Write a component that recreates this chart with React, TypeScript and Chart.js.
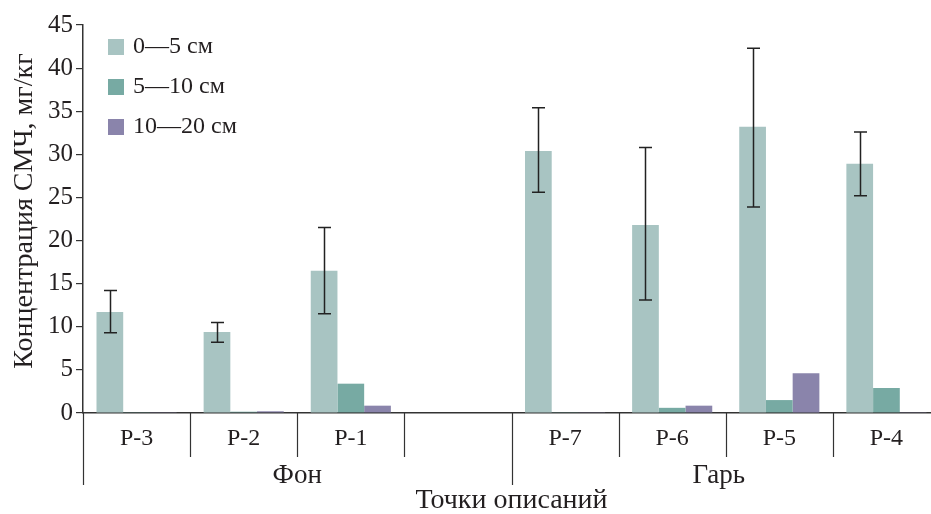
import React, { useEffect, useRef } from "react";
import { Chart, registerables } from "chart.js";

Chart.register(...registerables);

const categories = ["P-3", "P-2", "P-1", "", "P-7", "P-6", "P-5", "P-4"];
const groups = ["Фон", "Гарь"];
const seriesNames = ["0—5 см", "5—10 см", "10—20 см"];
const s0to5 = [11.7, 9.4, 16.5, null, 30.4, 21.8, 33.2, 28.9];
const s5to10 = [0.1, 0.15, 3.4, null, 0.1, 0.6, 1.5, 2.9];
const s10to20 = [0.1, 0.2, 0.85, null, 0.1, 0.85, 4.6, 0.1];
const errHigh = [14.2, 10.5, 21.5, null, 35.4, 30.8, 42.3, 32.6];
const errLow = [9.3, 8.2, 11.5, null, 25.6, 13.1, 23.9, 25.2];
const yTicks = [0, 5, 10, 15, 20, 25, 30, 35, 40, 45];
const colors = ["#a8c4c2", "#77aaa3", "#8a84ab"];
const FONT = "'Liberation Serif', 'DejaVu Serif', serif";
const TEXT = "#231f20";

const decorPlugin = {
  id: "decor",
  afterDatasetsDraw(chart: any) {
    const ctx = chart.ctx;
    const y = chart.scales.y;
    const meta = chart.getDatasetMeta(0);
    ctx.save();
    ctx.strokeStyle = "#222";
    ctx.lineWidth = 1.5;
    meta.data.forEach((bar: any, i: number) => {
      if (errHigh[i] == null || errLow[i] == null) return;
      const bx = Math.round(bar.x) + 0.5;
      const yh = y.getPixelForValue(errHigh[i]);
      const yl = y.getPixelForValue(errLow[i]);
      ctx.beginPath();
      ctx.moveTo(bx, yh);
      ctx.lineTo(bx, yl);
      ctx.moveTo(bx - 6.5, yh);
      ctx.lineTo(bx + 6.5, yh);
      ctx.moveTo(bx - 6.5, yl);
      ctx.lineTo(bx + 6.5, yl);
      ctx.stroke();
    });
    ctx.restore();
  },
  afterDraw(chart: any) {
    const ctx = chart.ctx;
    const x = chart.scales.x;
    const area = chart.chartArea;
    const half = (x.getPixelForValue(1) - x.getPixelForValue(0)) / 2;
    ctx.save();
    ctx.strokeStyle = "#333";
    ctx.lineWidth = 1.2;
    for (let i = 0; i <= categories.length; i++) {
      const px = Math.round(x.getPixelForValue(i) - half) + 0.5;
      const long = i === 0 || i === 4 || i === categories.length;
      ctx.beginPath();
      ctx.moveTo(px, area.bottom);
      ctx.lineTo(px, area.bottom + (long ? 72 : 44));
      ctx.stroke();
    }
    ctx.fillStyle = TEXT;
    ctx.textAlign = "center";
    ctx.textBaseline = "middle";
    ctx.font = `27px ${FONT}`;
    const g0 = (x.getPixelForValue(0) + x.getPixelForValue(3)) / 2;
    const g1 = (x.getPixelForValue(4) + x.getPixelForValue(7)) / 2 - 7;
    ctx.fillText(groups[0], g0, area.bottom + 63);
    ctx.fillText(groups[1], g1, area.bottom + 63);
    ctx.font = `28px ${FONT}`;
    ctx.fillText("Точки описаний", (area.left + area.right) / 2, area.bottom + 88);
    // y title
    ctx.save();
    ctx.translate(25, 211);
    ctx.rotate(-Math.PI / 2);
    ctx.fillText("Концентрация СМЧ, мг/кг", 0, 0);
    ctx.restore();
    // legend
    ctx.font = `24px ${FONT}`;
    ctx.textAlign = "left";
    seriesNames.forEach((name, i) => {
      const ly = area.top + 22 + i * 40;
      ctx.fillStyle = colors[i];
      ctx.fillRect(area.left + 25, ly - 8, 16, 16);
      ctx.fillStyle = TEXT;
      ctx.fillText(name, area.left + 50, ly);
    });
    ctx.restore();
  },
};

export default function App() {
  const ref = useRef<HTMLCanvasElement>(null);
  useEffect(() => {
    if (!ref.current) return;
    const chart = new Chart(ref.current, {
      type: "bar",
      data: {
        labels: categories,
        datasets: [
          { label: seriesNames[0], data: s0to5, backgroundColor: colors[0] },
          { label: seriesNames[1], data: s5to10, backgroundColor: colors[1] },
          { label: seriesNames[2], data: s10to20, backgroundColor: colors[2] },
        ],
      },
      options: {
        responsive: false,
        animation: false,
        layout: { padding: { top: 25, right: 20, left: 0, bottom: 0 } },
        datasets: { bar: { categoryPercentage: 0.748, barPercentage: 1 } },
        plugins: { legend: { display: false }, tooltip: { enabled: false } },
        scales: {
          x: {
            grid: { display: false, drawTicks: false },
            border: { display: true, color: "#333", width: 1.5 },
            ticks: { color: TEXT, font: { family: FONT, size: 24 }, padding: 11, maxRotation: 0, autoSkip: false },
            afterFit: (s: any) => { s.height = 101; },
          },
          y: {
            min: 0,
            max: 45,
            afterBuildTicks: (s: any) => { s.ticks = yTicks.map((v) => ({ value: v })); },
            grid: { drawOnChartArea: false, tickLength: 7, color: "#333", lineWidth: 1.2 },
            border: { display: true, color: "#333", width: 1.5 },
            ticks: { color: TEXT, font: { family: FONT, size: 25 }, padding: 3 },
            afterFit: (s: any) => { s.width = 83; },
          },
        },
      },
      plugins: [decorPlugin],
    });
    return () => chart.destroy();
  }, []);
  return (
    <div style={{ position: "fixed", left: 0, top: 0, width: 931, height: 514, overflow: "hidden", background: "#fff" }}>
      <canvas ref={ref} width={960} height={514} style={{ width: 960, height: 514, display: "block" }} />
    </div>
  );
}
